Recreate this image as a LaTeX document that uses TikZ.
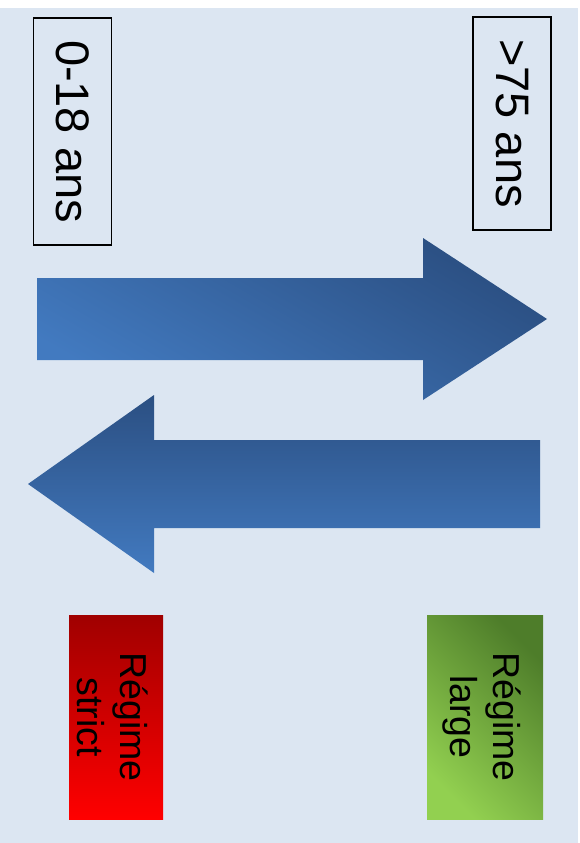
\documentclass[tikz,border=0pt]{standalone}
\usepackage{fontspec}
\setmainfont{Liberation Sans}
\definecolor{bg}{HTML}{DCE6F2}
\definecolor{bluedark}{HTML}{2B4F82}
\definecolor{bluelight}{HTML}{427AC0}
\definecolor{reddark}{HTML}{A00000}
\definecolor{redlight}{HTML}{FF0000}
\definecolor{greendark}{HTML}{4E7D2A}
\definecolor{greenlight}{HTML}{92D050}
\tikzset{
  agebox/.style={draw=black, line width=1.4pt, minimum width=78pt, inner sep=0pt},
  agetext/.style={rotate=-90, font=\fontsize{47}{50}\selectfont},
  regtext/.style={rotate=-90, align=center, font=\fontsize{37.5}{43}\selectfont, text=black},
}
\begin{document}
\begin{tikzpicture}[x=1pt,y=-1pt]
\useasboundingbox (0,0) rectangle (580,843);
\fill[bg] (0,8) rectangle (578,843);
% age boxes
\node[agebox, minimum height=227pt] (young) at (72.5,131.5) {};
\node[agetext] (youngt) at (young.center) {0-18 ans};
\node[agebox, minimum height=213pt] (old) at (512,123.5) {};
\node[agetext] (oldt) at (old.center) {>75 ans};
% arrows
\shade[left color=bluelight, right color=bluedark, shading angle=150]
  (37,278) -- (423,278) -- (423,238) -- (547,319) -- (423,400) -- (423,360) -- (37,360) -- cycle;
\shade[top color=bluedark, bottom color=bluelight]
  (540,440) -- (154,440) -- (154,395) -- (28,484) -- (154,573) -- (154,528) -- (540,528) -- cycle;
% regime boxes
\shade[top color=reddark, bottom color=redlight] (69,615) rectangle (163,819);
\coordinate (strictc) at (113,717);
\node[regtext] (strict) at (strictc) {Régime\\strict};
\shade[left color=greenlight, right color=greendark, shading angle=135] (427,615) rectangle (543,819);
\coordinate (largec) at (482,717);
\node[regtext] (large) at (largec) {Régime\\large};
\end{tikzpicture}
\end{document}
